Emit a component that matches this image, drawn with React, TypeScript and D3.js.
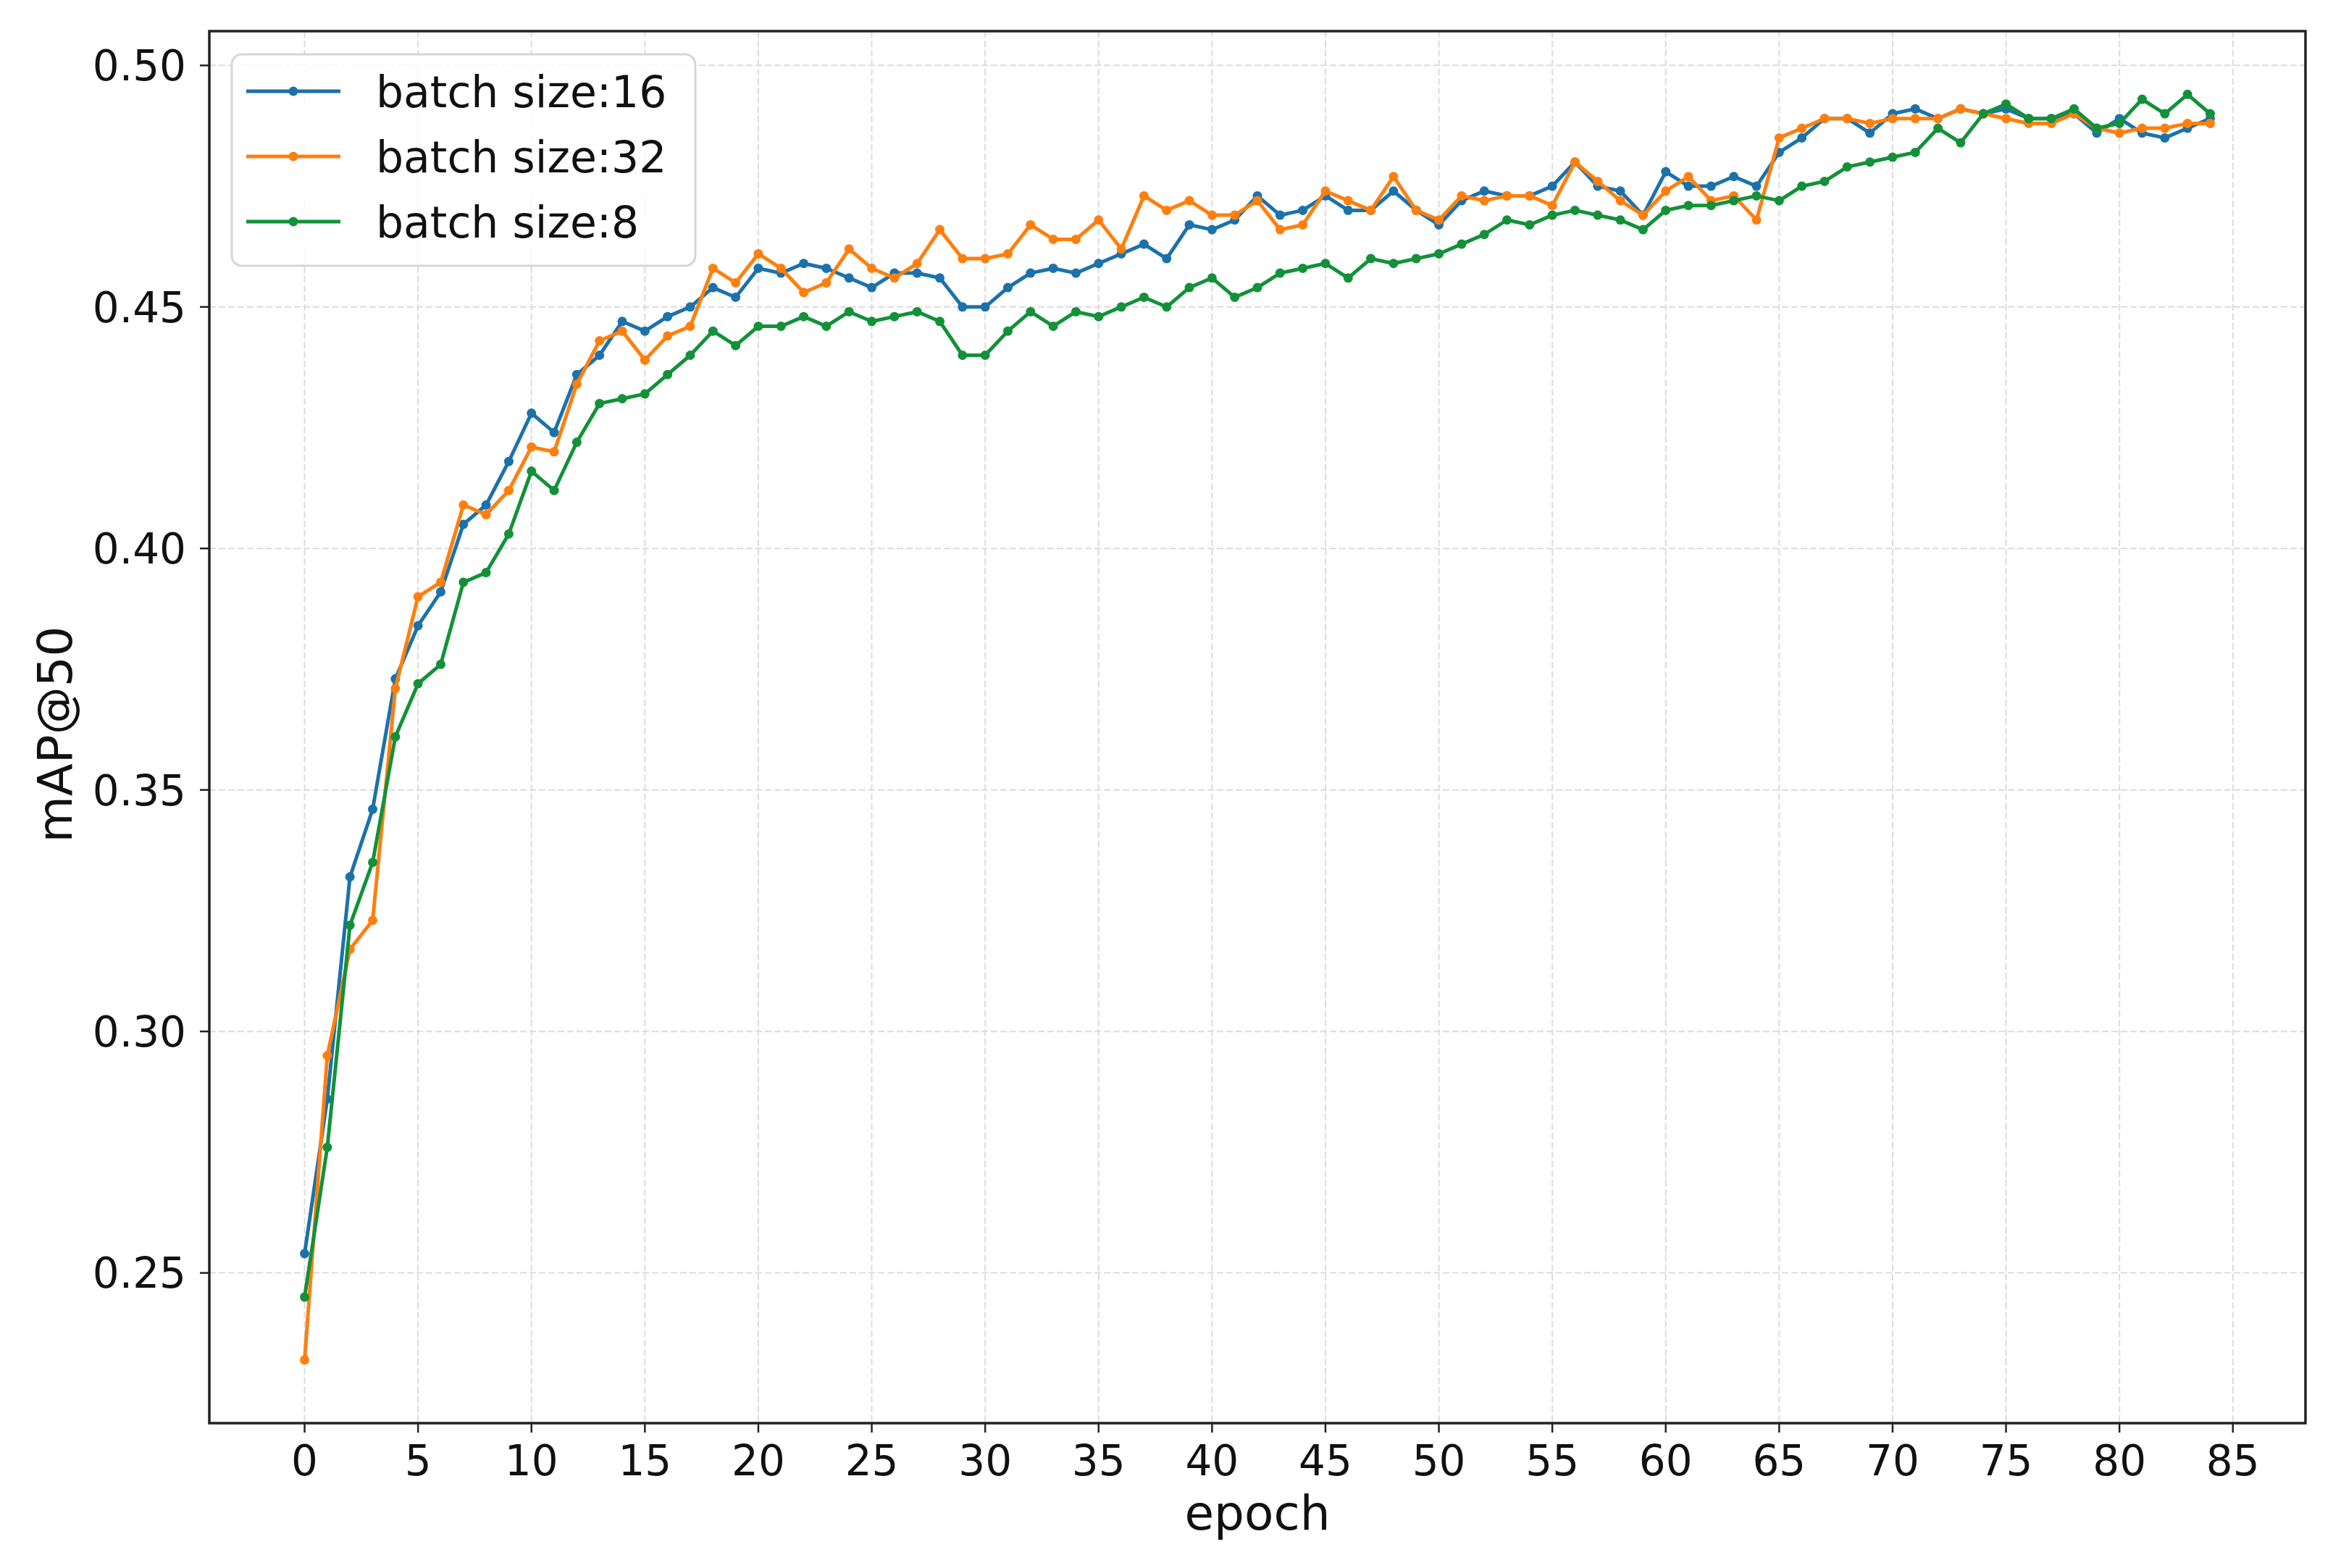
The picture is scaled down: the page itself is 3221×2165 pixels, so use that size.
import React from "react";
import * as d3 from "d3";

const epochs: number[] = Array.from({ length: 85 }, (_, i) => i);

const bs16: number[] = [
  0.254, 0.286, 0.332, 0.346, 0.373, 0.384, 0.391, 0.405, 0.409, 0.418,
  0.428, 0.424, 0.436, 0.440, 0.447, 0.445, 0.448, 0.450, 0.454, 0.452,
  0.458, 0.457, 0.459, 0.458, 0.456, 0.454, 0.457, 0.457, 0.456, 0.450,
  0.450, 0.454, 0.457, 0.458, 0.457, 0.459, 0.461, 0.463, 0.460, 0.467,
  0.466, 0.468, 0.473, 0.469, 0.470, 0.473, 0.470, 0.470, 0.474, 0.470,
  0.467, 0.472, 0.474, 0.473, 0.473, 0.475, 0.480, 0.475, 0.474, 0.469,
  0.478, 0.475, 0.475, 0.477, 0.475, 0.482, 0.485, 0.489, 0.489, 0.486,
  0.490, 0.491, 0.489, 0.491, 0.490, 0.491, 0.489, 0.489, 0.490, 0.486,
  0.489, 0.486, 0.485, 0.487, 0.489,
];

const bs32: number[] = [
  0.232, 0.295, 0.317, 0.323, 0.371, 0.390, 0.393, 0.409, 0.407, 0.412,
  0.421, 0.420, 0.434, 0.443, 0.445, 0.439, 0.444, 0.446, 0.458, 0.455,
  0.461, 0.458, 0.453, 0.455, 0.462, 0.458, 0.456, 0.459, 0.466, 0.460,
  0.460, 0.461, 0.467, 0.464, 0.464, 0.468, 0.462, 0.473, 0.470, 0.472,
  0.469, 0.469, 0.472, 0.466, 0.467, 0.474, 0.472, 0.470, 0.477, 0.470,
  0.468, 0.473, 0.472, 0.473, 0.473, 0.471, 0.480, 0.476, 0.472, 0.469,
  0.474, 0.477, 0.472, 0.473, 0.468, 0.485, 0.487, 0.489, 0.489, 0.488,
  0.489, 0.489, 0.489, 0.491, 0.490, 0.489, 0.488, 0.488, 0.490, 0.487,
  0.486, 0.487, 0.487, 0.488, 0.488,
];

const bs8: number[] = [
  0.245, 0.276, 0.322, 0.335, 0.361, 0.372, 0.376, 0.393, 0.395, 0.403,
  0.416, 0.412, 0.422, 0.430, 0.431, 0.432, 0.436, 0.440, 0.445, 0.442,
  0.446, 0.446, 0.448, 0.446, 0.449, 0.447, 0.448, 0.449, 0.447, 0.440,
  0.440, 0.445, 0.449, 0.446, 0.449, 0.448, 0.450, 0.452, 0.450, 0.454,
  0.456, 0.452, 0.454, 0.457, 0.458, 0.459, 0.456, 0.460, 0.459, 0.460,
  0.461, 0.463, 0.465, 0.468, 0.467, 0.469, 0.470, 0.469, 0.468, 0.466,
  0.470, 0.471, 0.471, 0.472, 0.473, 0.472, 0.475, 0.476, 0.479, 0.480,
  0.481, 0.482, 0.487, 0.484, 0.490, 0.492, 0.489, 0.489, 0.491, 0.487,
  0.488, 0.493, 0.490, 0.494, 0.490,
];

const seriesNames: string[] = ["batch size:16", "batch size:32", "batch size:8"];
const seriesColors: string[] = ["#1b72ab", "#ff7f0e", "#139139"];
const xTicks: number[] = [0, 5, 10, 15, 20, 25, 30, 35, 40, 45, 50, 55, 60, 65, 70, 75, 80, 85];
const yTicks: number[] = [0.25, 0.30, 0.35, 0.40, 0.45, 0.50];

const W = 3221;
const H = 2165;
const M = { left: 289, right: 3183, top: 43, bottom: 1965 };
const FONT = "'DejaVu Sans', sans-serif";

export default function App() {
  const allSeries = [bs16, bs32, bs8];
  const allVals = allSeries.flat();
  const [ymin, ymax] = d3.extent(allVals) as [number, number];
  const yPad = (ymax - ymin) * 0.05;
  const xPad = (epochs[epochs.length - 1] - epochs[0]) * 0.05;

  const x = d3.scaleLinear().domain([epochs[0] - xPad, epochs[epochs.length - 1] + xPad]).range([M.left, M.right]);
  const y = d3.scaleLinear().domain([ymin - yPad, ymax + yPad]).range([M.bottom, M.top]);

  const line = d3.line<number>().x((_, i) => x(epochs[i])).y((d) => y(d));

  const legendX = 320;
  const legendY = 75;
  const legendW = 640;
  const legendH = 292;
  const rowGap = 90;

  return (
    <svg width={W} height={H} style={{ position: "absolute", left: 0, top: 0, background: "#fff" }} fontFamily={FONT}>
      <rect x={0} y={0} width={W} height={H} fill="#fff" />
      {/* grid */}
      <g>
        {xTicks.map((t) => (
          <line key={"gx" + t} x1={x(t)} x2={x(t)} y1={M.top} y2={M.bottom} stroke="#dcdcdc" strokeWidth={2} strokeDasharray="9,4" />
        ))}
        {yTicks.map((t) => (
          <line key={"gy" + t} x1={M.left} x2={M.right} y1={y(t)} y2={y(t)} stroke="#dcdcdc" strokeWidth={2} strokeDasharray="9,4" />
        ))}
      </g>
      {/* series */}
      <g>
        {allSeries.map((s, k) => (
          <g key={"s" + k}>
            <path d={line(s) || ""} fill="none" stroke={seriesColors[k]} strokeWidth={5} strokeLinejoin="round" />
            {s.map((v, i) => (
              <circle key={i} cx={x(epochs[i])} cy={y(v)} r={6.5} fill={seriesColors[k]} />
            ))}
          </g>
        ))}
      </g>
      {/* frame */}
      <rect x={M.left} y={M.top} width={M.right - M.left} height={M.bottom - M.top} fill="none" stroke="#222" strokeWidth={3.5} />
      {/* x ticks */}
      <g>
        {xTicks.map((t) => (
          <g key={"xt" + t}>
            <line x1={x(t)} x2={x(t)} y1={M.bottom} y2={M.bottom + 13} stroke="#222" strokeWidth={2.5} />
            <text x={x(t)} y={M.bottom + 72} fontSize={58} textAnchor="middle" fill="#111">{String(t)}</text>
          </g>
        ))}
      </g>
      {/* y ticks */}
      <g>
        {yTicks.map((t) => (
          <g key={"yt" + t}>
            <line x1={M.left - 13} x2={M.left} y1={y(t)} y2={y(t)} stroke="#222" strokeWidth={2.5} />
            <text x={M.left - 32} y={y(t)} dy="0.36em" fontSize={58} textAnchor="end" fill="#111">{t.toFixed(2)}</text>
          </g>
        ))}
      </g>
      {/* axis labels */}
      <text x={(M.left + M.right) / 2} y={2112} fontSize={66} textAnchor="middle" fill="#111">epoch</text>
      <text transform={`translate(99, ${(M.top + M.bottom) / 2 + 10}) rotate(-90)`} fontSize={66} textAnchor="middle" fill="#111">mAP@50</text>
      {/* legend */}
      <g>
        <rect x={legendX} y={legendY} width={legendW} height={legendH} rx={14} fill="#fff" fillOpacity={0.85} stroke="#d6d6d6" strokeWidth={3} />
        {seriesNames.map((n, k) => {
          const cy = legendY + 51 + k * rowGap;
          return (
            <g key={"lg" + k}>
              <line x1={340} x2={470} y1={cy} y2={cy} stroke={seriesColors[k]} strokeWidth={5} />
              <circle cx={405} cy={cy} r={6.5} fill={seriesColors[k]} />
              <text x={519} y={cy} dy="0.36em" fontSize={60} fill="#111">{n}</text>
            </g>
          );
        })}
      </g>
    </svg>
  );
}
